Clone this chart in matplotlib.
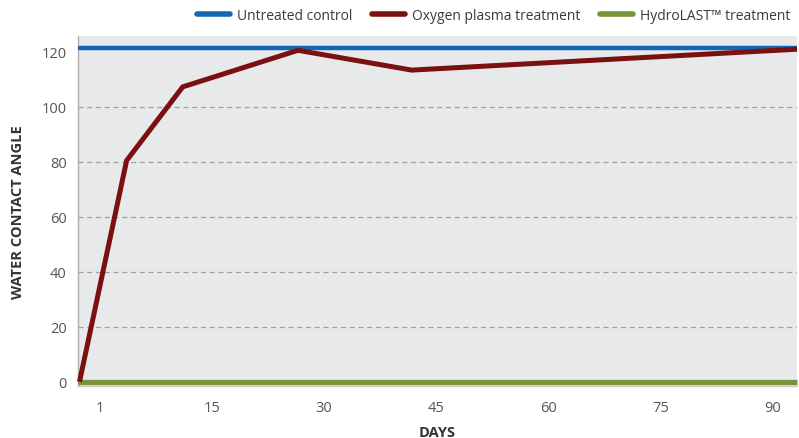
import matplotlib
matplotlib.use("Agg")
import matplotlib.pyplot as plt
from matplotlib.lines import Line2D

# Data
tick_pos = [0, 15, 30, 45, 60, 75, 90]
tick_labels = ["1", "15", "30", "45", "60", "75", "90"]
yticks = [0, 20, 40, 60, 80, 100, 120]

plasma_x = [-2.7, 3.6, 11.1, 26.5, 41.7, 93.2]
plasma_y = [0, 80.5, 107.3, 120.6, 113.4, 121.0]
control_x = [-2.9, 93.2]
control_y = [121.3, 121.3]
hydro_x = [-2.9, 93.2]
hydro_y = [0.0, 0.0]

series_names = ["Untreated control", "Oxygen plasma treatment", "HydroLAST\u2122 treatment"]
colors = ["#1467b5", "#7a1010", "#77943a"]

plt.rcParams['font.family'] = ['Open Sans', 'DejaVu Sans']

fig = plt.figure(figsize=(7.99, 4.39), dpi=100)
ax = fig.add_axes([0.0976, 0.1185, 0.8999, 0.7972])
ax.set_facecolor("#e8e9eb")

ax.set_xlim(-2.9, 93.2)
ax.set_ylim(-1.5, 125.8)

for yv in [20, 40, 60, 80, 100]:
    ax.axhline(yv, color="#a0a0a0", lw=0.9, ls=(0, (4, 3)), zorder=1)

ax.plot(control_x, control_y, color=colors[0], lw=3.2, solid_capstyle="butt", zorder=3)
ax.plot(hydro_x, hydro_y, color=colors[2], lw=3.8, solid_capstyle="butt", zorder=3, clip_on=False)
ax.plot(plasma_x, plasma_y, color=colors[1], lw=3.6, solid_capstyle="butt", solid_joinstyle="miter", zorder=4, clip_on=False)

ax.set_xticks(tick_pos)
ax.set_xticklabels(tick_labels)
ax.set_yticks(yticks)
ax.tick_params(axis="both", length=0, labelsize=10.5, colors="#555555")
ax.tick_params(axis="x", pad=10)
ax.tick_params(axis="y", pad=8)

for s in ["top", "right"]:
    ax.spines[s].set_visible(False)
ax.spines["left"].set_color("#b0b0b0")
ax.spines["bottom"].set_color("#c8c8c8")
ax.spines["left"].set_linewidth(1.0)
ax.spines["bottom"].set_linewidth(1.0)

ax.set_xlabel("DAYS", fontsize=10.5, fontweight="bold", color="#333333", labelpad=7)
ax.set_ylabel("WATER CONTACT ANGLE", fontsize=10.5, fontweight="bold", color="#333333", labelpad=12)

handles = [Line2D([], [], color=c, lw=4, solid_capstyle="round") for c in colors]
leg = fig.legend(handles, series_names, loc="upper right", bbox_to_anchor=(1.005, 1.008),
                 ncol=3, frameon=False, fontsize=10, handlelength=2.4, columnspacing=1.4,
                 handletextpad=0.5, labelcolor="#3a3a3a")

fig.savefig("out.png", dpi=100)
